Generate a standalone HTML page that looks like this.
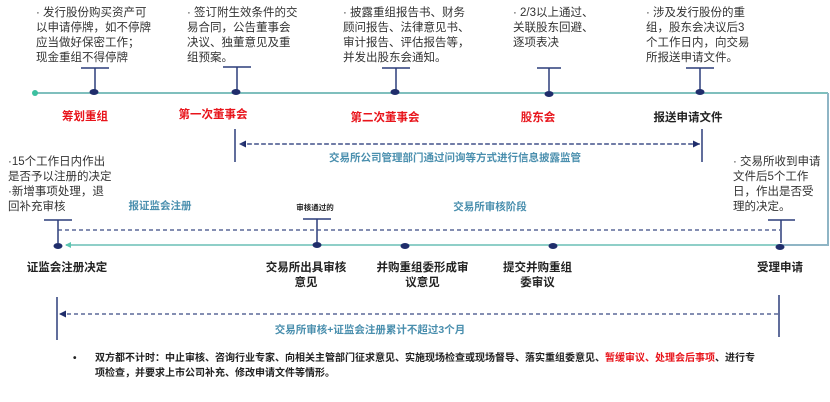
<!DOCTYPE html>
<html><head><meta charset="utf-8"><style>
body{margin:0;width:830px;height:402px;background:#fff;position:relative;overflow:hidden;font-family:"Liberation Sans","Noto Sans CJK SC",sans-serif}
.t{position:absolute;font-size:11.5px;line-height:15px;color:#333;white-space:nowrap}
.l{position:absolute;font-size:11.5px;font-weight:bold;white-space:nowrap;text-align:center;line-height:15px}
.r{color:#e8141b}.k{color:#222}.b{color:#4a8fae}
</style></head><body>
<svg width="830" height="402" style="position:absolute;left:0;top:0">
<defs><marker id="a" markerUnits="userSpaceOnUse" markerWidth="7" markerHeight="7" refX="6" refY="3.5" orient="auto"><path d="M0,0L7,3.5L0,7z" fill="#1f2d6b"/></marker>
<marker id="g" markerUnits="userSpaceOnUse" markerWidth="6" markerHeight="6" refX="5" refY="3" orient="auto"><path d="M0,0L6,3L0,6z" fill="#5cc6b0"/></marker></defs>
<line x1="35" y1="93" x2="828" y2="93" stroke="#7fbfbd" stroke-width="2"/>
<circle cx="35" cy="93" r="3" fill="#3cc0a0"/>
<polyline points="828,93 828,245 780,245" fill="none" stroke="#8fb5c5" stroke-width="2"/>
<line x1="780" y1="245" x2="66" y2="245" stroke="#8fcfc8" stroke-width="2" marker-end="url(#g)"/>
<g stroke="#2c3d7a" stroke-width="1.5">
<line x1="81" y1="68" x2="109" y2="68"/><line x1="95" y1="68" x2="95" y2="90"/>
<line x1="223" y1="67" x2="251" y2="67"/><line x1="237" y1="67" x2="237" y2="90"/>
<line x1="382" y1="68" x2="410" y2="68"/><line x1="396" y1="68" x2="396" y2="90"/>
<line x1="537" y1="68" x2="561" y2="68"/><line x1="549" y1="68" x2="549" y2="91"/>
<line x1="686" y1="68" x2="714" y2="68"/><line x1="700" y1="68" x2="700" y2="90"/>
<line x1="44" y1="220" x2="72" y2="220"/><line x1="58" y1="220" x2="58" y2="243"/>
<line x1="303" y1="219" x2="331" y2="219"/><line x1="317" y1="219" x2="317" y2="243"/>
<line x1="768" y1="220" x2="795" y2="220"/><line x1="781" y1="220" x2="781" y2="243"/>
<line x1="235" y1="129" x2="235" y2="162"/><line x1="702" y1="129" x2="702" y2="162"/>
<line x1="57" y1="297" x2="57" y2="340"/><line x1="779" y1="295" x2="779" y2="337"/>
</g>
<g fill="#1f2d6b">
<ellipse cx="94" cy="92" rx="4.5" ry="3"/><ellipse cx="236" cy="92" rx="4.5" ry="3"/><ellipse cx="395" cy="92" rx="4.5" ry="3"/><ellipse cx="549" cy="94" rx="4.5" ry="3"/><ellipse cx="700" cy="92" rx="4.5" ry="3"/>
<ellipse cx="58" cy="246" rx="4.5" ry="3"/><ellipse cx="317" cy="245" rx="4.5" ry="3"/><ellipse cx="405" cy="246" rx="4.5" ry="3"/><ellipse cx="553" cy="246" rx="4.5" ry="3"/><ellipse cx="780" cy="247" rx="4.5" ry="3"/>
</g>
<g stroke="#3a4a85" stroke-width="1.3" stroke-dasharray="4,3" fill="none">
<line x1="700" y1="144" x2="240" y2="144" marker-end="url(#a)"/>
<line x1="240" y1="144" x2="699" y2="144" marker-end="url(#a)"/>
<line x1="58" y1="230" x2="780" y2="230"/>
<line x1="778" y1="314" x2="60" y2="314" marker-end="url(#a)"/>
</g>
</svg>
<div class="t" style="left:36px;top:6px">· 发行股份购买资产可<br>以申请停牌，如不停牌<br>应当做好保密工作；<br>现金重组不得停牌</div>
<div class="t" style="left:187px;top:6px">· 签订附生效条件的交<br>易合同，公告董事会<br>决议、独董意见及重<br>组预案。</div>
<div class="t" style="left:343px;top:6px">· 披露重组报告书、财务<br>顾问报告、法律意见书、<br>审计报告、评估报告等，<br>并发出股东会通知。</div>
<div class="t" style="left:513px;top:6px">· 2/3以上通过、<br>关联股东回避、<br>逐项表决</div>
<div class="t" style="left:646px;top:6px">· 涉及发行股份的重<br>组，股东会决议后3<br>个工作日内，向交易<br>所报送申请文件。</div>
<div class="t" style="left:8px;top:155px">·15个工作日内作出<br>是否予以注册的决定<br>·新增事项处理，退<br>回补充审核</div>
<div class="t" style="left:733px;top:155px">· 交易所收到申请<br>文件后5个工作<br>日，作出是否受<br>理的决定。</div>
<div class="l r" style="left:45px;top:110px;width:80px">筹划重组</div>
<div class="l r" style="left:163px;top:108px;width:100px">第一次董事会</div>
<div class="l r" style="left:335px;top:111px;width:100px">第二次董事会</div>
<div class="l r" style="left:498px;top:111px;width:80px">股东会</div>
<div class="l k" style="left:638px;top:111px;width:100px">报送申请文件</div>
<div class="l b" style="left:300px;top:151px;width:310px;font-size:10.5px">交易所公司管理部门通过问询等方式进行信息披露监管</div>
<div class="l b" style="left:110px;top:199px;width:100px;font-size:10.5px">报证监会注册</div>
<div class="l b" style="left:440px;top:200px;width:100px;font-size:10.5px">交易所审核阶段</div>
<div class="l k" style="left:285px;top:200px;width:60px;font-size:7.5px">审核通过的</div>
<div class="l k" style="left:17px;top:261px;width:100px">证监会注册决定</div>
<div class="l k" style="left:256px;top:261px;width:100px">交易所出具审核<br>意见</div>
<div class="l k" style="left:370px;top:261px;width:105px">并购重组委形成审<br>议意见</div>
<div class="l k" style="left:490px;top:261px;width:95px">提交并购重组<br>委审议</div>
<div class="l k" style="left:740px;top:261px;width:80px">受理申请</div>
<div class="l b" style="left:220px;top:323px;width:300px;font-size:10.5px">交易所审核+证监会注册累计不超过3个月</div>
<div class="t" style="left:73px;top:351px;font-size:10px;font-weight:bold;color:#222">•</div>
<div class="t" style="left:95px;top:351px;font-size:10px;line-height:15px;font-weight:bold;color:#222">双方都不计时：中止审核、咨询行业专家、向相关主管部门征求意见、实施现场检查或现场督导、落实重组委意见、<span class="r">暂缓审议、处理会后事项</span>、进行专<br>项检查，并要求上市公司补充、修改申请文件等情形。</div>
</body></html>
